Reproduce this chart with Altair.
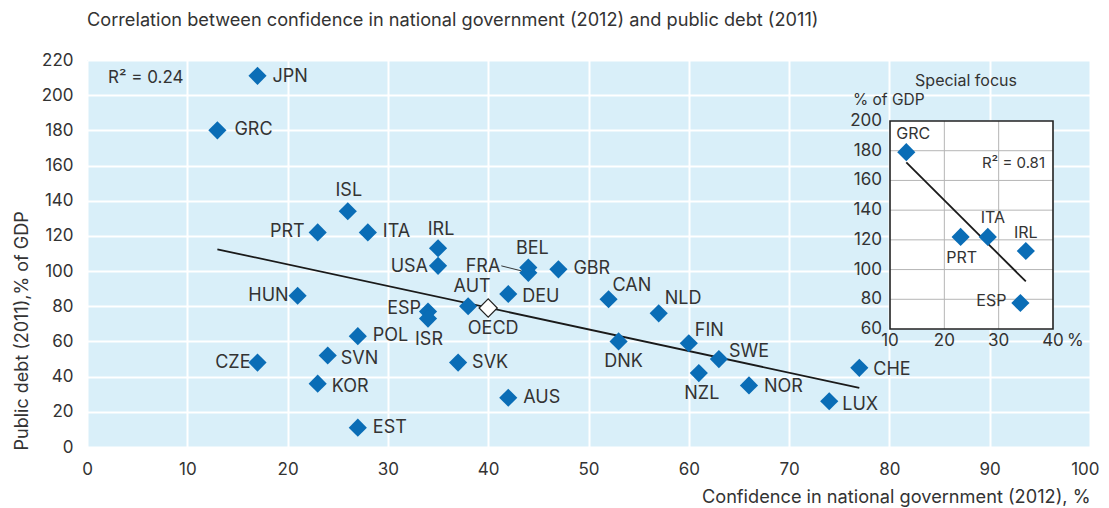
import altair as alt
import pandas as pd

# ---------------- data ----------------
codes = ["JPN", "GRC", "ISL", "PRT", "ITA", "IRL", "USA", "BEL", "FRA", "GBR",
         "HUN", "AUT", "DEU", "CAN", "NLD", "ESP", "ISR", "POL", "SVN", "CZE",
         "KOR", "EST", "SVK", "AUS", "DNK", "FIN", "SWE", "NZL", "NOR", "LUX", "CHE"]
confidence = [17, 13, 26, 23, 28, 35, 35, 44, 44, 47,
              21, 38, 42, 52, 57, 34, 34, 27, 24, 17,
              23, 27, 37, 42, 53, 60, 63, 61, 66, 74, 77]
debt = [211, 180, 134, 122, 122, 113, 103, 102, 99, 101,
        86, 80, 87, 84, 76, 77, 73, 63, 52, 48,
        36, 11, 48, 28, 60, 59, 50, 42, 35, 26, 45]

oecd_code = ["OECD"]
oecd_conf = [40]
oecd_debt = [79]

focus_codes = ["GRC", "PRT", "ITA", "IRL", "ESP"]
focus_conf = [13, 23, 28, 35, 34]
focus_debt = [179, 122, 122, 112.5, 77.5]

x_ticks = [0, 10, 20, 30, 40, 50, 60, 70, 80, 90, 100]
y_ticks = [0, 20, 40, 60, 80, 100, 120, 140, 160, 180, 200, 220]
inset_x_ticks = [10, 20, 30, 40]
inset_y_ticks = [60, 80, 100, 120, 140, 160, 180, 200]
inset_x_grid = [20, 30]
inset_y_grid = [80, 100, 120, 140, 160, 180]

title_text = "Correlation between confidence in national government (2012) and public debt (2011)"
x_title = "Confidence in national government (2012), %"
y_title = "Public debt (2011),% of GDP"
r2_main = "R² = 0.24"
r2_focus = "R² = 0.81"

# ---------------- style ----------------
FONT = "Inter"
BLUE = "#0a6db6"
BG = "#d9eff9"
TXT = "#333333"
W, H = 1003, 387

# label placement (dx, dy, align) in pixels
label_place = {
    "JPN": (15, 1, "left"), "GRC": (17, 0, "left"), "ISL": (1, -20, "center"),
    "PRT": (-13, 0, "right"), "ITA": (15, 0, "left"), "IRL": (3, -18, "center"),
    "USA": (-10, 1, "right"), "BEL": (4, -19, "center"), "FRA": (-28, -6, "right"),
    "GBR": (15, 0, "left"), "HUN": (-9, 0, "right"), "AUT": (4, -19, "center"),
    "DEU": (14, 3, "left"), "CAN": (4, -13, "left"), "NLD": (6, -14, "left"),
    "ESP": (-7, -3, "right"), "ISR": (1, 21, "center"), "POL": (15, 0, "left"),
    "SVN": (13, 3, "left"), "CZE": (-7, 0, "right"), "KOR": (14, 3, "left"),
    "EST": (15, 0, "left"), "SVK": (14, 0, "left"), "AUS": (15, 0, "left"),
    "DNK": (5, 21, "center"), "FIN": (6, -12, "left"), "SWE": (10, -7, "left"),
    "NZL": (3, 21, "center"), "NOR": (15, 2, "left"), "LUX": (13, 4, "left"),
    "CHE": (14, 2, "left"), "OECD": (5, 21, "center"),
}
focus_place = {
    "GRC": (7, -18, "center"), "PRT": (1, 21, "center"), "ITA": (5, -19, "center"),
    "IRL": (0, -18, "center"), "ESP": (-14, -2, "right"),
}

df = pd.DataFrame({"code": codes, "x": confidence, "y": debt})
df_oecd = pd.DataFrame({"code": oecd_code, "x": oecd_conf, "y": oecd_debt})
df_all = pd.concat([df, df_oecd], ignore_index=True)
df_focus = pd.DataFrame({"code": focus_codes, "x": focus_conf, "y": focus_debt})

# ---------------- main panel ----------------
last_x = f"datum.value == {x_ticks[-1]}"
X = alt.X("x:Q", scale=alt.Scale(domain=[x_ticks[0], x_ticks[-1]], nice=False, zero=False),
          axis=alt.Axis(values=x_ticks, grid=True, gridColor="white", gridWidth=2,
                        domain=False, ticks=False, labelPadding=14, labelFontSize=17,
                        labelFont=FONT, labelColor=TXT, title=x_title, titleFont=FONT,
                        titleFontSize=18.2, titleFontWeight="normal", titleColor=TXT,
                        titleAnchor="end", titleAlign="right", titleX=W, titleY=50,
                        titleBaseline="middle", labelFlush=False,
                        labelAlign={"condition": {"test": last_x, "value": "right"},
                                    "value": "center"},
                        labelOffset={"condition": {"test": last_x, "value": 9},
                                     "value": 0}))
Y = alt.Y("y:Q", scale=alt.Scale(domain=[y_ticks[0], y_ticks[-1]], nice=False, zero=False),
          axis=alt.Axis(values=y_ticks, grid=True, gridColor="white", gridWidth=2,
                        domain=False, ticks=False, labelPadding=14, labelFontSize=17,
                        labelFont=FONT, labelColor=TXT, title=y_title, titleFont=FONT,
                        titleFontSize=18, titleFontWeight="normal", titleColor=TXT,
                        titleAngle=-90, titleAlign="left", titleBaseline="middle",
                        titleX=-65, titleY=H + 3, labelFlush=False))

base = alt.Chart(df).encode(x=X, y=Y)

reg = base.transform_regression("x", "y").mark_line(color="#1a1a1a", strokeWidth=1.8)

pts = base.mark_point(shape="diamond", filled=True, size=330, color=BLUE, opacity=1)

oecd_pt = alt.Chart(df_oecd).mark_point(shape="diamond", filled=True, size=330,
                                         fill="white", stroke="#222222",
                                         strokeWidth=1.2, opacity=1).encode(x=X, y=Y)

fra_leader = alt.Chart(df[df.code == "FRA"]).mark_rule(
    color="#222222", strokeWidth=0.9, xOffset=-27, yOffset=-7, x2Offset=-7, y2Offset=-2
).encode(x=X, y=Y, x2="x:Q", y2="y:Q")

label_layers = []
for c, (dx, dy, al) in label_place.items():
    label_layers.append(
        alt.Chart(df_all).transform_filter(alt.datum.code == c)
        .mark_text(dx=dx, dy=dy, align=al, baseline="middle", font=FONT,
                   fontSize=18, color=TXT)
        .encode(x=X, y=Y, text="code:N")
    )

r2_text = alt.Chart(pd.DataFrame({"t": [r2_main]})).mark_text(
    align="left", baseline="middle", font=FONT, fontSize=17, color=TXT
).encode(x=alt.value(21), y=alt.value(18), text="t:N")

main = alt.layer(reg, pts, oecd_pt, fra_leader, *label_layers, r2_text)

# ---------------- inset panel ----------------
sx_in = alt.Scale(domain=[inset_x_ticks[0], inset_x_ticks[-1]], range=[803, 966],
                  nice=False, zero=False)
sy_in = alt.Scale(domain=[inset_y_ticks[0], inset_y_ticks[-1]], range=[269, 61],
                  nice=False, zero=False)

def XI(f):
    return alt.X(f, type="quantitative", scale=sx_in, axis=None)

def YI(f):
    return alt.Y(f, type="quantitative", scale=sy_in, axis=None)

box_df = pd.DataFrame({"x0": [inset_x_ticks[0]], "x1": [inset_x_ticks[-1]],
                       "y0": [inset_y_ticks[0]], "y1": [inset_y_ticks[-1]]})
box_fill = alt.Chart(box_df).mark_rect(fill="white").encode(
    x=XI("x0"), x2="x1", y=YI("y0"), y2="y1")
box_stroke = alt.Chart(box_df).mark_rect(fill=None, stroke="#222222", strokeWidth=1.6).encode(
    x=XI("x0"), x2="x1", y=YI("y0"), y2="y1")

vgrid = alt.Chart(pd.DataFrame({"g": inset_x_grid, "a": inset_y_ticks[0], "b": inset_y_ticks[-1]})
                  ).mark_rule(color="#b5b5b5", strokeWidth=1).encode(
    x=XI("g"), y=YI("a"), y2="b")
hgrid = alt.Chart(pd.DataFrame({"g": inset_y_grid, "a": inset_x_ticks[0], "b": inset_x_ticks[-1]})
                  ).mark_rule(color="#b5b5b5", strokeWidth=1).encode(
    y=YI("g"), x=XI("a"), x2="b")

fbase = alt.Chart(df_focus).encode(x=XI("x"), y=YI("y"))
freg = fbase.transform_regression("x", "y").mark_line(color="#1a1a1a", strokeWidth=1.8)
fpts = fbase.mark_point(shape="diamond", filled=True, size=330, color=BLUE, opacity=1)

flabels = []
for c, (dx, dy, al) in focus_place.items():
    flabels.append(
        alt.Chart(df_focus).transform_filter(alt.datum.code == c)
        .mark_text(dx=dx, dy=dy, align=al, baseline="middle", font=FONT,
                   fontSize=16, color=TXT)
        .encode(x=XI("x"), y=YI("y"), text="code:N")
    )

ytl = alt.Chart(pd.DataFrame({"v": inset_y_ticks})).mark_text(
    align="right", baseline="middle", font=FONT, fontSize=17, color=TXT
).encode(y=YI("v"), x=alt.value(795), text="v:Q")
xtl = alt.Chart(pd.DataFrame({"v": inset_x_ticks})).mark_text(
    align="center", baseline="middle", font=FONT, fontSize=17, color=TXT
).encode(x=XI("v"), y=alt.value(281), text="v:Q")

inset_texts = pd.DataFrame({
    "t": ["Special focus", "% of GDP", "%", r2_focus],
})
t_special = alt.Chart(inset_texts.iloc[[0]]).mark_text(
    align="center", baseline="middle", font=FONT, fontSize=16, color=TXT
).encode(x=alt.value(879), y=alt.value(21), text="t:N")
t_gdp = alt.Chart(inset_texts.iloc[[1]]).mark_text(
    align="left", baseline="middle", font=FONT, fontSize=15.5, color=TXT
).encode(x=alt.value(766), y=alt.value(40), text="t:N")
t_pct = alt.Chart(inset_texts.iloc[[2]]).mark_text(
    align="left", baseline="middle", font=FONT, fontSize=17, color=TXT
).encode(x=alt.value(980), y=alt.value(281), text="t:N")
t_r2 = alt.Chart(inset_texts.iloc[[3]]).mark_text(
    align="right", baseline="middle", font=FONT, fontSize=15, color=TXT
).encode(x=alt.value(958), y=alt.value(103), text="t:N")

inset = alt.layer(box_fill, vgrid, hgrid, box_stroke, freg, fpts, *flabels,
                  ytl, xtl, t_special, t_gdp, t_pct, t_r2)

chart = alt.layer(main, inset).resolve_scale(x="independent", y="independent").properties(
    width=W, height=H,
    title=alt.TitleParams(title_text, anchor="start", frame="group", offset=21,
                          font=FONT, fontSize=18.2, fontWeight="normal", color=TXT),
    autosize=alt.AutoSizeParams(type="none"),
    padding={"left": 79, "top": 52, "right": 10, "bottom": 60},
).configure_view(fill=BG, stroke=None)

chart.save("out.html", embed_options={"renderer": "svg", "actions": False})
